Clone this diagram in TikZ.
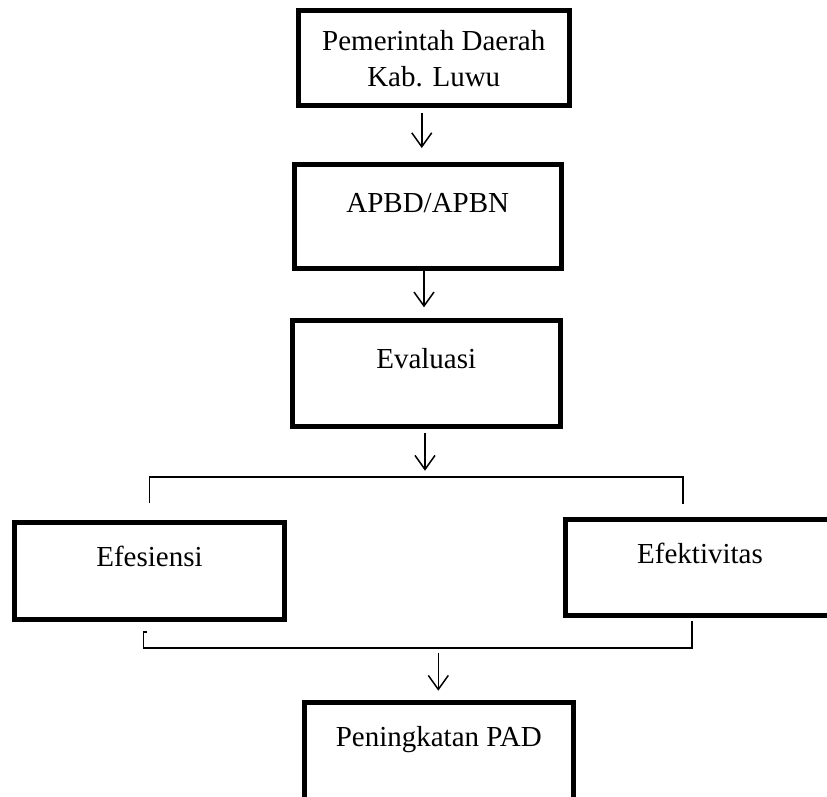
\documentclass[tikz,border=0pt]{standalone}
\usepackage{fontspec}
\setmainfont{Liberation Serif}
\usetikzlibrary{arrows.meta}

\begin{document}
\begin{tikzpicture}[x=1pt,y=-1pt,>={Straight Barb[length=14pt,width=20pt]},
    box/.style={draw,line width=5pt,align=center,inner sep=0pt,text height=20pt,font=\fontsize{29}{36}\selectfont},
    link/.style={line width=1.6pt},
    arr/.style={->,line width=1.5pt}]
    \useasboundingbox (0,0) rectangle (827,796);
    \clip (0,0) rectangle (827,796);
    \node[box,minimum width=270.5pt,minimum height=95pt,text height=56pt,text depth=0pt] (pemda) at (433.75,58.25) {Pemerintah Daerah\\Kab. Luwu};
    \node[box,minimum width=267.5pt,minimum height=103.3pt,text depth=28pt] (apbd) at (427.75,216.6) {APBD/APBN};
    \node[box,minimum width=267.5pt,minimum height=106pt,text depth=30.4pt] (eval) at (426.25,373.5) {Evaluasi};
    \node[box,minimum width=270pt,minimum height=97pt,text depth=28.6pt] (efes) at (149.5,571) {Efesiensi};
    \node[box,minimum width=270pt,minimum height=96.5pt,text depth=28pt] (efek) at (700,567.25) {Efektivitas};
    \node[box,minimum width=268.5pt,minimum height=100pt,text depth=32pt] (pad) at (438.75,752) {Peningkatan PAD};
    \coordinate (split) at (425,477);
    \coordinate (merge) at (438.3,648);
    \draw[arr,shorten <=4.7pt,shorten >=14.4pt] ([xshift=-12pt]pemda.south) -- ([xshift=-12pt]pemda.south |- apbd.north);
    \draw[arr,shorten >=10.7pt] ([xshift=-3.75pt]apbd.south) -- ([xshift=-3.75pt]apbd.south |- eval.north);
    \draw[arr,shorten <=4.3pt,shorten >=6.3pt] (eval.south -| split) -- (split);
    \draw[link] ([yshift=17pt]efes.north) |- (split) -| ([xshift=-17pt,yshift=13pt]efek.north);
    \draw[link] ([xshift=-2.8pt,yshift=-9.7pt]efes.south) -- ++(-3.4,0) |- (merge) -| ([xshift=-8pt,yshift=-3.4pt]efek.south);
    \draw[arr,shorten <=5.3pt,shorten >=8.8pt] (merge) -- (merge |- pad.north);
\end{tikzpicture}
\end{document}
